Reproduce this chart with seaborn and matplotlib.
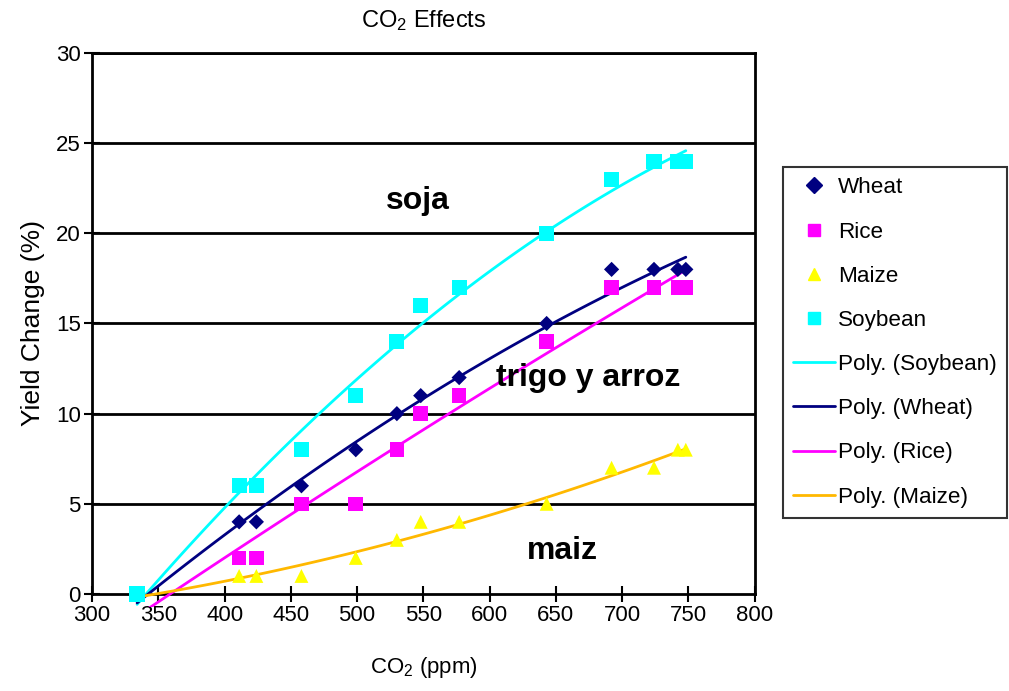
import numpy as np
import pandas as pd
import seaborn as sns
import matplotlib
matplotlib.use("Agg")
import matplotlib.pyplot as plt
from matplotlib.lines import Line2D
from matplotlib.patches import Rectangle

# ---- data ----
co2 = [334, 411, 424, 458, 499, 530, 548, 577, 643, 692, 724, 742, 748]
wheat = [0, 4, 4, 6, 8, 10, 11, 12, 15, 18, 18, 18, 18]
rice = [0, 2, 2, 5, 5, 8, 10, 11, 14, 17, 17, 17, 17]
maize = [0, 1, 1, 1, 2, 3, 4, 4, 5, 7, 7, 8, 8]
soybean = [0, 6, 6, 8, 11, 14, 16, 17, 20, 23, 24, 24, 24]

x_ticks = [300, 350, 400, 450, 500, 550, 600, 650, 700, 750, 800]
y_ticks = [0, 5, 10, 15, 20, 25, 30]

series_names = ["Wheat", "Rice", "Maize", "Soybean"]
series_vals = [wheat, rice, maize, soybean]

sns.set_theme(style="white")
plt.rcParams["font.family"] = ["Liberation Sans", "DejaVu Sans"]
plt.rcParams["mathtext.default"] = "regular"
for k in ["text.color", "axes.labelcolor", "xtick.color", "ytick.color"]:
    plt.rcParams[k] = "black"

fig = plt.figure(figsize=(10.09, 6.91), dpi=100)
ax = fig.add_axes([0.0912, 0.1404, 0.6568, 0.7829])

marker_col = {"Wheat": "#000080", "Rice": "#FF00FF", "Maize": "#FFFF00", "Soybean": "#00FFFF"}
line_col = {"Wheat": "#000080", "Rice": "#FF00FF", "Maize": "#FFB800", "Soybean": "#00FFFF"}
markers = {"Wheat": "D", "Rice": "s", "Maize": "^", "Soybean": "s"}
msize = {"Wheat": 60, "Rice": 110, "Maize": 100, "Soybean": 120}

# horizontal grid lines
for yv in y_ticks[1:]:
    ax.axhline(yv, color="black", lw=2, zorder=1)

dfs = {}
for name, vals in zip(series_names, series_vals):
    dfs[name] = pd.DataFrame({"co2": co2, "y": vals})

# trend lines (2nd-order polynomial fits)
n_before = len(ax.lines)
for name in ["Soybean", "Wheat", "Rice", "Maize"]:
    sns.regplot(data=dfs[name], x="co2", y="y", order=2, ci=None, scatter=False,
                ax=ax, line_kws=dict(color=line_col[name], lw=2, zorder=3))
clip_rect = Rectangle((300, -0.7), 500, 31.4, transform=ax.transData,
                      facecolor="none", edgecolor="none")
ax.add_patch(clip_rect)
for ln in ax.lines[n_before:]:
    ln.set_clip_path(clip_rect)

# data points
for name in series_names:
    sns.scatterplot(data=dfs[name], x="co2", y="y", ax=ax, marker=markers[name],
                    s=msize[name], color=marker_col[name], edgecolor="none",
                    linewidth=0, zorder=4, clip_on=False)

ax.set_xlim(300, 800)
ax.set_ylim(0, 30)
ax.set_xticks(x_ticks)
ax.set_yticks(y_ticks)
ax.tick_params(axis="both", direction="inout", length=12, width=1.5, color="black",
               labelsize=16, pad=2, bottom=True, left=True)
for s in ax.spines.values():
    s.set_color("black")
    s.set_linewidth(2)

ax.set_xlabel("CO$_2$ (ppm)", fontsize=16, labelpad=21)
ax.set_ylabel("Yield Change (%)", fontsize=19, labelpad=8)
ax.set_title("CO$_2$ Effects", fontsize=17, pad=19)

ax.text(546, 21.8, "soja", fontsize=23, fontweight="bold", ha="center", va="center")
ax.text(674, 12.0, "trigo y arroz", fontsize=23, fontweight="bold", ha="center", va="center")
ax.text(655, 2.4, "maiz", fontsize=23, fontweight="bold", ha="center", va="center")

# legend
handles = []
for name in series_names:
    handles.append(Line2D([], [], ls="none", marker=markers[name], color=marker_col[name],
                          markersize=9 if name != "Wheat" else 8, label=name))
for name in ["Soybean", "Wheat", "Rice", "Maize"]:
    handles.append(Line2D([], [], color=line_col[name], lw=2, label=f"Poly. ({name})"))
leg = fig.legend(handles=handles, loc="upper left", bbox_to_anchor=(0.776, 0.758),
                 borderaxespad=0, frameon=True, fancybox=False, edgecolor="black",
                 fontsize=16.2, labelspacing=1.03, handlelength=1.85, borderpad=0.45,
                 handletextpad=0.15)
leg.get_frame().set_linewidth(1.5)

fig.savefig("out.png", dpi=100)
